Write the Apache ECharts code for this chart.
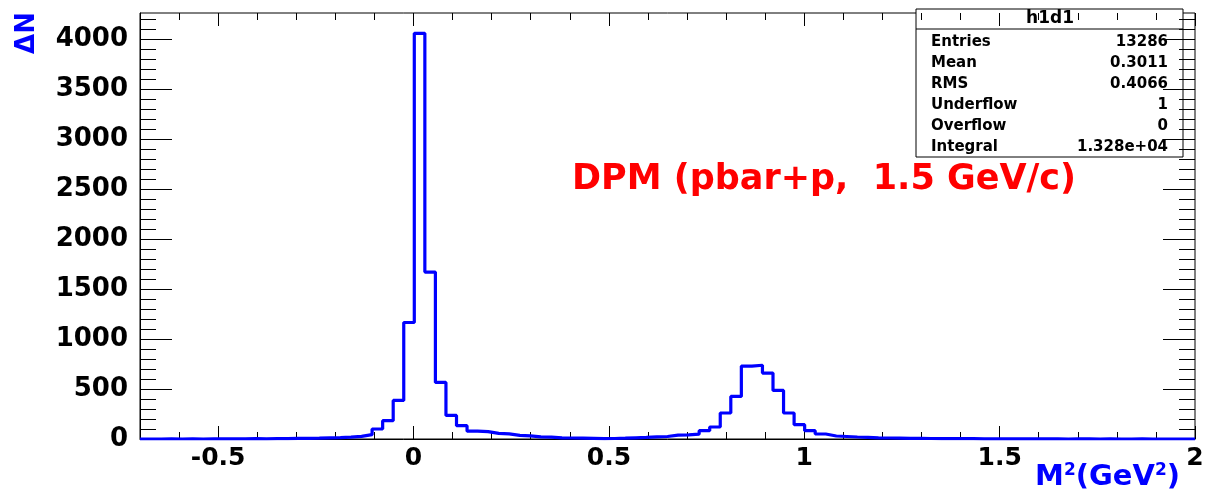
<!DOCTYPE html>
<html>
<head>
<meta charset="utf-8">
<script src="https://cdn.jsdelivr.net/npm/echarts@6/dist/echarts.min.js"></script>
<style>html,body{margin:0;padding:0;background:#fff}#c{width:1209px;height:491px}</style>
</head>
<body>
<div id="c"></div>
<script>
// ---- histogram definition (100 bins from -0.7 to 2.0) ----
const binLow = -0.7;
const binHigh = 2.0;
const counts = [
  0, 0, 1, 0, 1, 0, 1, 1, 2, 1,
  3, 2, 3, 4, 6, 7, 8, 11, 13, 18,
  26, 43, 100, 183, 386, 1166, 4060, 1670, 566, 236,
  133, 78, 73, 57, 51, 37, 31, 22, 18, 12,
  10, 8, 6, 4, 5, 8, 12, 16, 21, 25,
  38, 42, 48, 83, 120, 260, 426, 730, 738, 660,
  486, 260, 143, 83, 50, 30, 25, 20, 16, 12,
  10, 9, 7, 6, 5, 4, 4, 3, 3, 2,
  2, 2, 1, 1, 2, 1, 1, 0, 1, 1,
  0, 1, 0, 0, 1, 0, 0, 0, 0, 0
];
const yMax = 4263;

// ---- tick labels ----
const xMajorTicks = [-0.5, 0, 0.5, 1, 1.5, 2];
const xMinorTicks = [-0.6, -0.4, -0.3, -0.2, -0.1, 0.1, 0.2, 0.3, 0.4, 0.6, 0.7, 0.8, 0.9,
  1.1, 1.2, 1.3, 1.4, 1.6, 1.7, 1.8, 1.9];
const yMajorTicks = [0, 500, 1000, 1500, 2000, 2500, 3000, 3500, 4000];
const yMinorTicks = [100, 200, 300, 400, 600, 700, 800, 900, 1100, 1200, 1300, 1400,
  1600, 1700, 1800, 1900, 2100, 2200, 2300, 2400, 2600, 2700, 2800, 2900,
  3100, 3200, 3300, 3400, 3600, 3700, 3800, 3900, 4100, 4200];

// ---- texts ----
const statsTitle = 'h1d1';
const statsLabels = ['Entries', 'Mean', 'RMS', 'Underflow', 'Overflow', 'Integral'];
const statsValues = ['13286', '0.3011', '0.4066', '1', '0', '1.328e+04'];
const annotation = 'DPM (pbar+p,  1.5 GeV/c)';
const yTitle = '\u0394N';

// ---- build step data from bins ----
const nBins = counts.length;
const binW = (binHigh - binLow) / nBins;
const stepData = counts.map((v, i) => [binLow + i * binW, v]);
stepData.push([binHigh, counts[nBins - 1]]);

const FONT = 'DejaVu Sans';
const black = '#000';
const blue = '#0000ff';

function xAx(pos, ticks, len, labels) {
  return {
    type: 'value', min: binLow, max: binHigh, position: pos,
    axisLine: { show: labels, onZero: false, lineStyle: { color: black, width: 1 } },
    axisTick: { show: true, inside: true, length: len, customValues: ticks, lineStyle: { color: black, width: 1 } },
    axisLabel: labels ? { show: true, customValues: ticks, color: black, fontFamily: FONT, fontWeight: 'bold', fontSize: 25, margin: 7,
      formatter: v => String(Math.round(v * 10) / 10) } : { show: false },
    splitLine: { show: false }
  };
}
function yAx(pos, ticks, len, labels) {
  return {
    type: 'value', min: 0, max: yMax, position: pos,
    axisLine: { show: labels, onZero: false, lineStyle: { color: black, width: 1 } },
    axisTick: { show: true, inside: true, length: len, customValues: ticks, lineStyle: { color: black, width: 1 } },
    axisLabel: labels ? { show: true, customValues: ticks, color: black, fontFamily: FONT, fontWeight: 'bold', fontSize: 26, margin: 12,
      formatter: v => String(v) } : { show: false },
    splitLine: { show: false }
  };
}

const statsChildren = [
  { type: 'rect', shape: { x: 916, y: 9, width: 267, height: 148 }, style: { fill: '#fff', stroke: black, lineWidth: 1 } },
  { type: 'line', shape: { x1: 916, y1: 29, x2: 1183, y2: 29 }, style: { stroke: black, lineWidth: 1 } },
  { type: 'text', x: 1050, y: 19, style: { text: statsTitle, font: 'bold 17px ' + FONT, fill: black, align: 'center', verticalAlign: 'middle', textAlign: 'center', textVerticalAlign: 'middle' } }
];
statsLabels.forEach((lab, i) => {
  const yy = 42.5 + i * 20.9;
  statsChildren.push({ type: 'text', x: 931, y: yy, style: { text: lab, font: 'bold 15px ' + FONT, fill: black, align: 'left', verticalAlign: 'middle', textAlign: 'left', textVerticalAlign: 'middle' } });
  statsChildren.push({ type: 'text', x: 1168, y: yy, style: { text: statsValues[i], font: 'bold 15px ' + FONT, fill: black, align: 'right', verticalAlign: 'middle', textAlign: 'right', textVerticalAlign: 'middle' } });
});

const chart = echarts.init(document.getElementById('c'), null, { renderer: 'canvas' });
chart.setOption({
  animation: false,
  backgroundColor: '#fff',
  grid: { left: 140, right: 14, top: 13, bottom: 52, show: true, borderColor: black, borderWidth: 1, backgroundColor: 'transparent' },
  xAxis: [
    xAx('bottom', xMajorTicks, 13, true),
    xAx('bottom', xMinorTicks, 7, false),
    xAx('top', xMajorTicks, 13, false),
    xAx('top', xMinorTicks, 7, false)
  ],
  yAxis: [
    yAx('left', yMajorTicks, 32, true),
    yAx('left', yMinorTicks, 16, false),
    yAx('right', yMajorTicks, 32, false),
    yAx('right', yMinorTicks, 16, false)
  ],
  series: [{
    type: 'line', xAxisIndex: 0, yAxisIndex: 0, step: 'end', data: stepData,
    symbol: 'none', lineStyle: { color: blue, width: 3.2 }, z: 5
  }],
  graphic: [
    { type: 'group', z: 100, children: statsChildren },
    { type: 'text', z: 100, x: 572, y: 180, style: { text: annotation, font: 'bold 35px ' + FONT, fill: '#ff0000', align: 'left', verticalAlign: 'middle', textAlign: 'left', textVerticalAlign: 'middle' } },
    { type: 'text', z: 100, x: 27, y: 33, rotation: Math.PI / 2, style: { text: yTitle, font: 'bold 26px ' + FONT, fill: blue, align: 'center', verticalAlign: 'middle', textAlign: 'center', textVerticalAlign: 'middle' } },
    { type: 'text', z: 100, x: 1180, y: 477, style: {
      text: '{a|M}{s|2}{a|(GeV}{s|2}{a|)}', align: 'right', verticalAlign: 'middle', textAlign: 'right', textVerticalAlign: 'middle',
      rich: {
        a: { font: 'bold 29px ' + FONT, fill: blue, verticalAlign: 'bottom' },
        s: { font: 'bold 17px ' + FONT, fill: blue, verticalAlign: 'top' }
      }
    } }
  ]
});
</script>
</body>
</html>
